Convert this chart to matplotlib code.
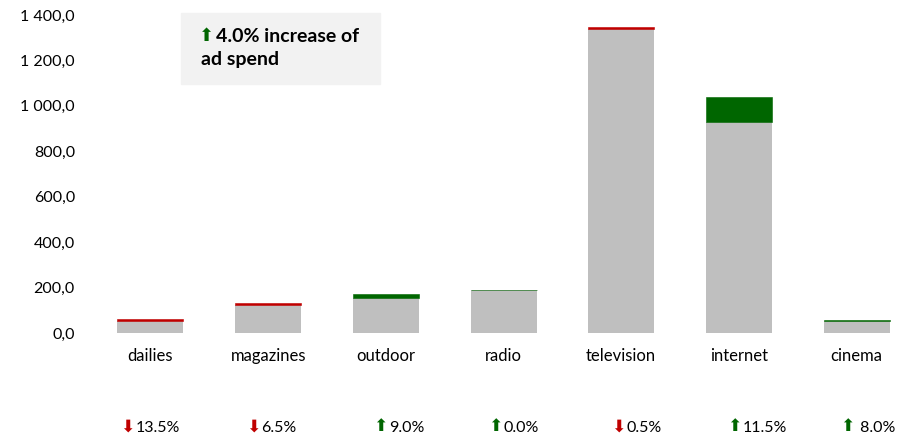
import numpy as np
import matplotlib
matplotlib.use("Agg")
import matplotlib.pyplot as plt
from matplotlib.patches import Rectangle

media = ['dailies', 'magazines', 'outdoor', 'radio', 'television', 'internet', 'cinema']
spend_prev = [62, 131, 156, 189, 1345, 930, 53]
change_pct = [-13.5, -6.5, 9.0, 0.0, -0.5, 11.5, 8.0]
total_change = 4.0
y_ticks = [0, 200, 400, 600, 800, 1000, 1200, 1400]

GREY = '#bfbfbf'
GREEN = '#006600'
RED = '#c00000'

prev = np.array(spend_prev, dtype=float)
pct = np.array(change_pct)
curr = prev * (1 + pct / 100)
base = np.minimum(prev, curr)
delta = np.abs(curr - prev)
seg_colors = [RED if p < 0 else GREEN for p in pct]

plt.rcParams['font.family'] = ['Lato', 'DejaVu Sans']

W, H = 912, 440
fig = plt.figure(figsize=(W / 100, H / 100), dpi=100)
ax = fig.add_axes([91.6 / W, (H - 333) / H, 823.9 / W, 318 / H])

x = np.arange(len(media))
ax.bar(x, base, width=0.56, color=GREY, zorder=2)
ax.bar(x, delta, bottom=base, width=0.56, color=seg_colors,
       edgecolor=seg_colors, linewidth=0.4, zorder=3)

ax.set_xlim(-0.5, 6.5)
ax.set_ylim(0, 1400)
ax.set_yticks(y_ticks)
ax.set_yticklabels([f"{v:,.1f}".replace(',', ' ').replace('.', ',') for v in y_ticks])
ax.set_xticks(x)
ax.set_xticklabels(media)
ax.tick_params(axis='y', length=0, pad=12, labelsize=11.5)
ax.tick_params(axis='x', length=0, pad=11, labelsize=12)
for s in ax.spines.values():
    s.set_visible(False)

# change labels under the categories: coloured arrow + percentage
px = 117.7
text_off = [-16, -8, 2, -1, 4, 3, -2]
trans = ax.get_xaxis_transform()
for i, p in enumerate(pct):
    xt = i + text_off[i] / px
    arrow = '\u2b07' if p < 0 else '\u2b06'
    col = RED if p < 0 else GREEN
    ax.text(xt, -0.293, arrow, transform=trans, ha='right', va='center',
            color=col, fontsize=12.5, family='DejaVu Sans', clip_on=False)
    label = f"{abs(p):.1f}%"
    if i == len(pct) - 1:
        label = ' ' + label
    ax.text(xt + 1 / px, -0.2987, label, transform=trans, ha='left', va='center',
            fontsize=11.5, clip_on=False)

# summary box
fig.patches.append(Rectangle((181 / W, (H - 84) / H), 199 / W, 71 / H,
                             transform=fig.transFigure, color='#f2f2f2', zorder=0))
fig.text(214 / W, (H - 36) / H, '\u2b06', color=GREEN, fontsize=13,
         family='DejaVu Sans', ha='right', va='center')
fig.text(216 / W, (H - 37) / H, f"{total_change:.1f}% increase of",
         fontsize=14, fontweight='bold', ha='left', va='center')
fig.text(201 / W, (H - 60) / H, "ad spend",
         fontsize=14, fontweight='bold', ha='left', va='center')

fig.savefig('out.png', dpi=100)
